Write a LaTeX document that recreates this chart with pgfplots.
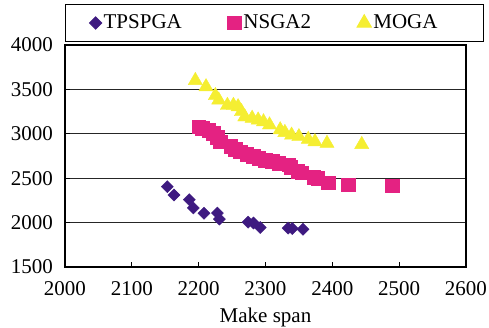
\documentclass[border=0pt]{standalone}
\usepackage{fontspec}
\setmainfont{Liberation Serif}
\usepackage{pgfplots}
\pgfplotsset{compat=1.18}
\definecolor{cpurple}{RGB}{62,26,128}
\definecolor{cpink}{RGB}{228,34,130}
\definecolor{cyellow}{RGB}{245,238,50}
\begin{document}
\fontsize{21}{25}\selectfont
\begin{tikzpicture}
\path[use as bounding box] (-65pt,-60pt) rectangle (424pt,267pt);
\begin{axis}[
  scale only axis, width=401pt, height=222pt,
  at={(0pt,0pt)}, anchor=south west,
  xmin=2000, xmax=2600, ymin=1500, ymax=4000,
  xtick={2000,2100,...,2600}, ytick={1500,2000,...,4000},
  xtick pos=bottom, ytick pos=left,
  tick align=inside, major tick length=5pt,
  ymajorgrids, grid style={black!85, line width=1pt},
  axis line style={line width=1.2pt},
  tick style={black, line width=0.8pt},
  /pgf/number format/assume math mode=true,
  /pgf/number format/1000 sep={},
  tick label style={font=\fontsize{21}{25}\selectfont},
  yticklabel style={xshift=-5pt},
  xticklabel style={yshift=-7pt},
  xlabel={Make span},
  xlabel style={font=\fontsize{21}{25}\selectfont, yshift=2pt},
  legend columns=3,
  legend style={at={(0,1)}, anchor=south west, yshift=3pt,
    draw=black, line width=1pt, inner xsep=24pt, inner ysep=8pt,
    font=\fontsize{21}{25}\selectfont,
    /tikz/every even column/.append style={column sep=44pt}},
]
\addplot[only marks, mark=square*, mark size=4.3pt, mark options={rotate=45, fill=cpurple, draw=cpurple}] coordinates {
(2153,2405) (2163,2311) (2186,2258) (2192,2165) (2208,2105) (2228,2108)
(2231,2040) (2274,2005) (2282,1995) (2292,1945) (2334,1938) (2340,1934) (2356,1925)
};
\addlegendentry{TPSPGA}
\addplot[only marks, mark=square*, mark size=6.8pt, mark options={fill=cpink, draw=cpink}] coordinates {
(2200,3080) (2205,3060) (2215,3040) (2222,3010) (2228,2960) (2232,2910)
(2248,2860) (2255,2830) (2262,2800) (2272,2770) (2282,2745) (2290,2722)
(2300,2705) (2310,2690) (2320,2668) (2335,2650) (2338,2625) (2348,2580)
(2354,2560) (2372,2510) (2378,2500) (2394,2450) (2424,2425) (2490,2415)
};
\addlegendentry{NSGA2}
\addplot[only marks, mark=triangle*, mark size=8.2pt, mark options={fill=cyellow, draw=cyellow}] coordinates {
(2195,3600) (2211,3530) (2225,3430) (2230,3380) (2243,3320) (2252,3320)
(2259,3305) (2264,3250) (2269,3190) (2280,3175) (2289,3155) (2297,3135)
(2306,3100) (2322,3045) (2329,3015) (2339,2985) (2350,2968) (2364,2938)
(2374,2911) (2392,2893) (2444,2880)
};
\addlegendentry{MOGA\hspace*{20pt}}
\end{axis}
\end{tikzpicture}
\end{document}
